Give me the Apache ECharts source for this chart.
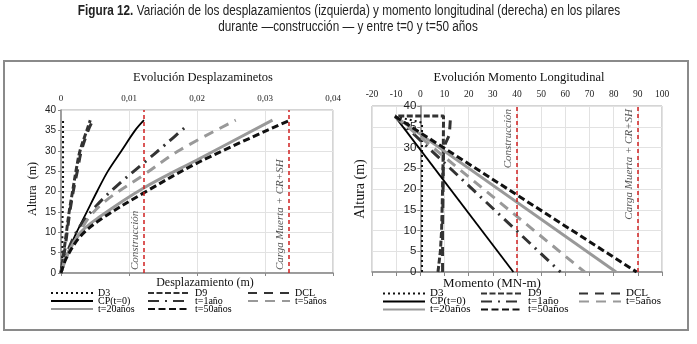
<!DOCTYPE html>
<html><head><meta charset="utf-8">
<script src="https://cdn.jsdelivr.net/npm/echarts@6/dist/echarts.min.js"></script>
<style>html,body{margin:0;padding:0;background:#fff}#c{width:697px;height:344px}</style>
</head><body><div id="c"></div>
<script>
// ---------- data ----------
const seriesNames = ['D3','D9','DCL','CP(t=0)','t=1año','t=5años','t=20años','t=50años'];

// Left panel: displacement (m) vs height (m)
const hD3_L  = [0, 5, 10, 20, 30, 37.5];
const xD3_L  = [0, 0.0002, 0.0002, 0.0003, 0.0003, 0.0003];
const hD9_L  = [0, 2.5, 5, 10, 15, 20, 25, 30, 35, 37.5];
const xD9_L  = [0, 0.0002, 0.0004, 0.0008, 0.0012, 0.0017, 0.0022, 0.0028, 0.0038, 0.0043];
const hDCL_L = [0, 2.5, 5, 10, 15, 20, 25, 30, 35, 37.5];
const xDCL_L = [0, 0.0002, 0.0005, 0.0009, 0.0013, 0.0018, 0.0024, 0.0030, 0.0040, 0.0047];
const hCP_L  = [0, 2.5, 5, 10, 15, 20, 25, 30, 35, 37.5];
const xCP_L  = [0, 0.0004, 0.0010, 0.0023, 0.0038, 0.0053, 0.0069, 0.0089, 0.0109, 0.0122];
const hT1_L  = [0, 5, 11, 16.7, 21.8, 26.9, 31.6, 36.3];
const xT1_L  = [0, 0.0009, 0.0026, 0.0053, 0.0085, 0.0121, 0.0154, 0.0186];
const hT5_L  = [0, 5, 9, 13.4, 17.9, 24, 30.2, 37.5];
const xT5_L  = [0, 0.0011, 0.0025, 0.0040, 0.0067, 0.0121, 0.0175, 0.0257];
const hT20_L = [0, 4, 9.8, 13.8, 20.8, 28.1, 37.5];
const xT20_L = [0, 0.0008, 0.0028, 0.0057, 0.0121, 0.0204, 0.0311];
const hT50_L = [0, 3.7, 8.9, 13, 19.6, 27.3, 37.3];
const xT50_L = [0, 0.0008, 0.0028, 0.0057, 0.0121, 0.0204, 0.0334];

// Right panel: longitudinal moment (MN-m) vs height (m)
const hD3_R  = [0, 36, 37.5];
const mD3_R  = [0.7, 0.7, -10.5];
const hD9_R  = [0, 5, 10, 20, 30, 37.6, 37.6];
const mD9_R  = [7.3, 8.3, 8.8, 9.2, 9.5, 9.6, -10.5];
const hDCL_R = [0, 10, 20, 30, 33, 37.5];
const mDCL_R = [9.2, 9.2, 9.4, 9.6, 12, 12.5];
const hCP_R  = [37.5, 0];
const mCP_R  = [-10.5, 38.5];
const hT1_R  = [37.5, 0];
const mT1_R  = [-10.5, 58];
const hT5_R  = [37.5, 0];
const mT5_R  = [-10.5, 68];
const hT20_R = [37.5, 0];
const mT20_R = [-10.5, 81];
const hT50_R = [37.5, 0];
const mT50_R = [-10.5, 89.5];

// reference lines
const refDispConstruccion = 0.0121;
const refDispCarga = 0.0335;
const refMomConstruccion = 40;
const refMomCarga = 90;
const refLabels = ['Construcción', 'Carga Muerta + CR+SH'];

// axis ticks
const dispTicks = [0, 0.01, 0.02, 0.03, 0.04];
const momTicks = [-20, -10, 0, 10, 20, 30, 40, 50, 60, 70, 80, 90, 100];
const heightTicks = [0, 5, 10, 15, 20, 25, 30, 35, 40];

// ---------- styles ----------
const SERIF = "'Liberation Serif','Times New Roman',serif";
const SANS = "'Liberation Sans',Arial,sans-serif";
const styles = {
  'D3':       {color:'#111', width:2,   type:[2,3]},
  'D9':       {color:'#333', width:3,   type:[6,2.5]},
  'DCL':      {color:'#333', width:3,   type:[9,7]},
  'CP(t=0)':  {color:'#000', width:1.8, type:'solid'},
  't=1año':   {color:'#333', width:3,   type:[11,6,2,6]},
  't=5años':  {color:'#999', width:3,   type:[10,7]},
  't=20años': {color:'#999', width:3,   type:'solid'},
  't=50años': {color:'#111', width:3,   type:[7,3.5]}
};

function zip(xs, ys){ return xs.map((x,i)=>[x, ys[i]]); }
const leftData = {
  'D3': zip(xD3_L,hD3_L), 'D9': zip(xD9_L,hD9_L), 'DCL': zip(xDCL_L,hDCL_L),
  'CP(t=0)': zip(xCP_L,hCP_L), 't=1año': zip(xT1_L,hT1_L), 't=5años': zip(xT5_L,hT5_L),
  't=20años': zip(xT20_L,hT20_L), 't=50años': zip(xT50_L,hT50_L)
};
const rightData = {
  'D3': zip(mD3_R,hD3_R), 'D9': zip(mD9_R,hD9_R), 'DCL': zip(mDCL_R,hDCL_R),
  'CP(t=0)': zip(mCP_R,hCP_R), 't=1año': zip(mT1_R,hT1_R), 't=5años': zip(mT5_R,hT5_R),
  't=20años': zip(mT20_R,hT20_R), 't=50años': zip(mT50_R,hT50_R)
};

const series = [];
seriesNames.forEach(n => {
  series.push({name:n, type:'line', xAxisIndex:0, yAxisIndex:0, data:leftData[n],
    smooth:0.35, symbol:'none', silent:true, lineStyle:styles[n], itemStyle:{color:styles[n].color}});
});
seriesNames.forEach(n => {
  series.push({name:n, type:'line', xAxisIndex:2, yAxisIndex:1, data:rightData[n],
    smooth:false, symbol:'none', silent:true, lineStyle:styles[n], itemStyle:{color:styles[n].color}});
});
const refLabelStyle = {color:'#555', fontStyle:'italic', fontFamily:SERIF, fontSize:11, distance:3};
series.push({name:'refL', type:'line', xAxisIndex:0, yAxisIndex:0, data:[], symbol:'none',
  markLine:{silent:true, symbol:['none','none'], animation:false, precision:6,
    lineStyle:{color:'#d02020', type:[4,3], width:1.5},
    label:Object.assign({position:'insideStartTop'}, refLabelStyle),
    data:[{xAxis:refDispConstruccion, label:{formatter:refLabels[0]}},
          {xAxis:refDispCarga, label:{formatter:refLabels[1]}}]}});
series.push({name:'refR', type:'line', xAxisIndex:2, yAxisIndex:1, data:[], symbol:'none',
  markLine:{silent:true, symbol:['none','none'], animation:false, precision:6,
    lineStyle:{color:'#d02020', type:[4,3], width:1.5},
    label:Object.assign({position:'insideEndTop'}, refLabelStyle),
    data:[{xAxis:refMomConstruccion, label:{formatter:refLabels[0]}},
          {xAxis:refMomCarga, label:{formatter:refLabels[1]}}]}});

const gridLine = {show:true, lineStyle:{color:'#e2e2e2', width:1}};
function legendCol(left, top, names, fs, ih, gap){
  return {orient:'vertical', left:left, top:top, padding:0, itemGap:gap, itemWidth:42, itemHeight:ih,
    selectedMode:false, data:names,
    itemStyle:{opacity:0, color:'rgba(0,0,0,0)', borderWidth:0},
    textStyle:{fontFamily:SERIF, fontSize:fs, color:'#000'}};
}
const col1 = ['D3','CP(t=0)','t=20años'], col2 = ['D9','t=1año','t=50años'], col3 = ['DCL','t=5años'];

const RIGHT_GRID_LEFT = 372, RIGHT_GRID_W = 290;
const rightYOffset = -RIGHT_GRID_W * (0 - momTicks[0]) / (momTicks[momTicks.length-1] - momTicks[0]);

const option = {
  animation:false,
  backgroundColor:'#fff',
  grid:[
    {left:61, top:110, width:272, height:163, show:true, borderColor:'#aaa', borderWidth:1},
    {left:RIGHT_GRID_LEFT, top:106, width:RIGHT_GRID_W, height:166, show:true, borderColor:'#aaa', borderWidth:1}
  ],
  xAxis:[
    {gridIndex:0, type:'value', position:'top', min:dispTicks[0], max:dispTicks[dispTicks.length-1],
      interval:dispTicks[1]-dispTicks[0],
      axisLine:{show:false}, axisTick:{show:false}, splitLine:gridLine,
      axisLabel:{fontFamily:SERIF, fontSize:9, color:'#222', margin:7,
        formatter:v => v===0 ? '0' : v.toFixed(2).replace('.', ',')}},
    {gridIndex:0, type:'value', position:'bottom', min:dispTicks[0], max:dispTicks[dispTicks.length-1],
      interval:dispTicks[1]-dispTicks[0],
      axisLine:{show:true, onZero:false, lineStyle:{color:'#888', width:1.5}},
      axisTick:{show:true, length:3, lineStyle:{color:'#888'}}, axisLabel:{show:false}, splitLine:{show:false}},
    {gridIndex:1, type:'value', position:'top', min:momTicks[0], max:momTicks[momTicks.length-1],
      interval:momTicks[1]-momTicks[0],
      axisLine:{show:false, onZero:false}, axisTick:{show:false}, splitLine:gridLine,
      axisLabel:{fontFamily:SERIF, fontSize:9.5, color:'#222', margin:7}},
    {gridIndex:1, type:'value', position:'bottom', min:momTicks[0], max:momTicks[momTicks.length-1],
      interval:momTicks[1]-momTicks[0],
      axisLine:{show:true, onZero:false, lineStyle:{color:'#888', width:1.5}},
      axisTick:{show:true, length:4, lineStyle:{color:'#888'}}, axisLabel:{show:false}, splitLine:{show:false}}
  ],
  yAxis:[
    {gridIndex:0, type:'value', min:heightTicks[0], max:heightTicks[heightTicks.length-1],
      interval:heightTicks[1]-heightTicks[0],
      axisLine:{show:true, onZero:false, lineStyle:{color:'#888', width:1.5}},
      axisTick:{show:true, length:3, lineStyle:{color:'#888'}}, splitLine:gridLine,
      axisLabel:{fontFamily:SANS, fontSize:10, color:'#222', margin:5}},
    {gridIndex:1, type:'value', min:heightTicks[0], max:heightTicks[heightTicks.length-1],
      interval:heightTicks[1]-heightTicks[0], offset:rightYOffset,
      axisLine:{show:true, onZero:false, lineStyle:{color:'#888', width:1.5}},
      axisTick:{show:true, length:3, lineStyle:{color:'#888'}}, splitLine:gridLine,
      axisLabel:{fontFamily:SANS, fontSize:11.5, color:'#222', margin:4}}
  ],
  legend:[
    legendCol(50, 288, col1, 10, 10, -2), legendCol(147, 288, col2, 10, 10, -2), legendCol(247, 288, col3, 10, 10, -2),
    legendCol(382, 288, col1, 11, 11, -3), legendCol(480, 288, col2, 11, 11, -3), legendCol(578, 288, col3, 11, 11, -3)
  ],
  series:series,
  graphic:[
    {type:'rect', shape:{x:4, y:61, width:684, height:269}, silent:true,
      style:{fill:'none', stroke:'#8a8a8a', lineWidth:2}},
    {type:'text', x:349, y:11, scaleX:0.84, silent:true, style:{
      text:'{b|Figura 12.} Variación de los desplazamientos (izquierda) y momento longitudinal (derecha) en los pilares',
      align:'center', verticalAlign:'middle', fontFamily:SANS, fontSize:14, fill:'#222',
      rich:{b:{fontFamily:SANS, fontSize:14, fontWeight:'bold', fill:'#222'}}}},
    {type:'text', x:348, y:27, scaleX:0.84, silent:true, style:{
      text:'durante —construcción — y entre t=0 y t=50 años',
      align:'center', verticalAlign:'middle', fontFamily:SANS, fontSize:14, fill:'#222'}},
    {type:'text', x:203, y:78, silent:true, style:{text:'Evolución Desplazaminetos', align:'center', verticalAlign:'middle',
      fontFamily:SERIF, fontSize:12.5, fill:'#111'}},
    {type:'text', x:519, y:78, silent:true, style:{text:'Evolución Momento Longitudinal', align:'center', verticalAlign:'middle',
      fontFamily:SERIF, fontSize:12.5, fill:'#111'}},
    {type:'text', x:205, y:283, silent:true, style:{text:'Desplazamiento (m)', align:'center', verticalAlign:'middle',
      fontFamily:SERIF, fontSize:12, fill:'#111'}},
    {type:'text', x:492, y:284, silent:true, style:{text:'Momento (MN-m)', align:'center', verticalAlign:'middle',
      fontFamily:SERIF, fontSize:13, fill:'#111'}},
    {type:'text', x:33, y:189, rotation:Math.PI/2, silent:true, style:{text:'Altura  (m)', align:'center', verticalAlign:'middle',
      fontFamily:SERIF, fontSize:12, fill:'#111'}},
    {type:'text', x:360, y:189, rotation:Math.PI/2, silent:true, style:{text:'Altura (m)', align:'center', verticalAlign:'middle',
      fontFamily:SERIF, fontSize:14, fill:'#111'}}
  ]
};
const chart = echarts.init(document.getElementById('c'), null, {renderer:'canvas'});
chart.setOption(option);
</script>
</body></html>
